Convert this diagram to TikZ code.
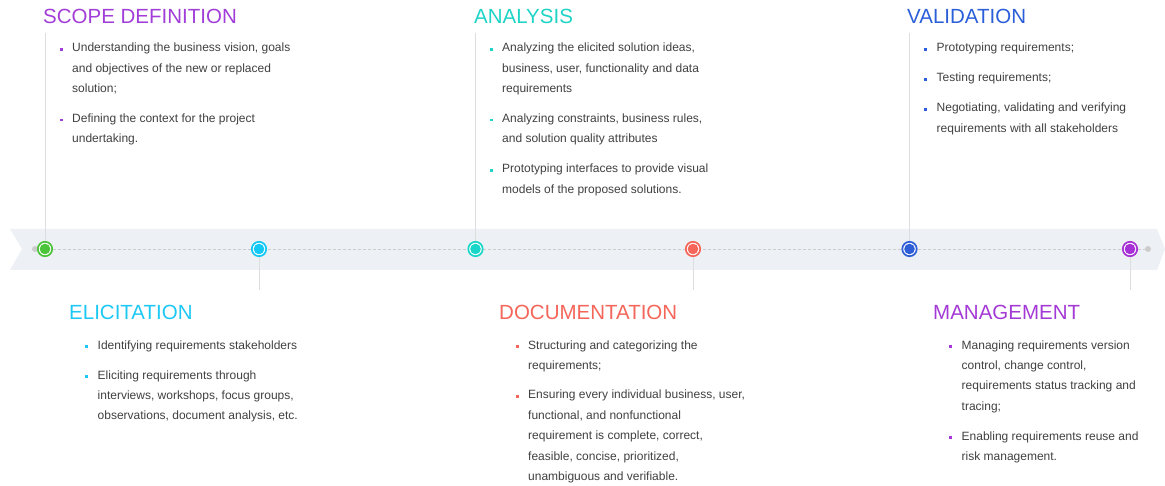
\documentclass[tikz,border=0pt]{standalone}
\usepackage{fontspec}
\setmainfont{Liberation Sans}
\definecolor{bandcol}{HTML}{EDF1F5}
\definecolor{dashcol}{HTML}{CCCCCC}
\definecolor{vline}{HTML}{DDDDDD}
\definecolor{bodycol}{HTML}{404040}
\definecolor{cscope}{HTML}{A23ED8}
\definecolor{celic}{HTML}{1EC8F5}
\definecolor{canal}{HTML}{1ED4C6}
\definecolor{cdoc}{HTML}{F4655A}
\definecolor{cval}{HTML}{2B5FD9}
\definecolor{cman}{HTML}{A43AD6}
\definecolor{dgreen}{HTML}{4CC43A}
\definecolor{dcyan}{HTML}{12C8F5}
\definecolor{dteal}{HTML}{1AD6C8}
\definecolor{dred}{HTML}{F56559}
\definecolor{dblue}{HTML}{2F5FD6}
\definecolor{dpurple}{HTML}{A72FD6}
\tikzset{
  txt/.style={anchor=base west, inner sep=0pt, text=bodycol, font=\fontsize{12}{14}\selectfont},
  ttl/.style={anchor=base west, inner sep=0pt, font=\fontsize{20.5}{24}\selectfont},
  bul/.style={rectangle, inner sep=0pt, minimum size=2.8pt, draw=none},
  dotc/.style={circle, inner sep=0pt, minimum size=14.4pt, line width=1.7pt, draw=#1, fill=white},
  dotin/.style={circle, inner sep=0pt, minimum size=10.6pt, fill=#1},
  stem/.style={draw=vline, line width=0.9pt},
  enddot/.style={circle, inner sep=0pt, minimum size=6pt, fill=dashcol}
}
\begin{document}
\begin{tikzpicture}[x=1pt,y=-1pt]
\useasboundingbox (0,0) rectangle (1165,486);
% band
\fill[bandcol] (10,229) -- (1157,229) -- (1165,249) -- (1157,270) -- (10,270) -- (22,249) -- cycle;
% end dots
\node[enddot] (e1) at (35,249) {};
\node[enddot] (e2) at (1148,249) {};
% stem endpoints
\coordinate (t1) at (45,33);
\coordinate (t3) at (475.5,33);
\coordinate (t5) at (909.5,33);
\coordinate (t2) at (259,290);
\coordinate (t4) at (693,290);
\coordinate (t6) at (1130,290);
% circle positions
\coordinate (p1) at (45,249);
\coordinate (p2) at (259,249);
\coordinate (p3) at (475.5,249);
\coordinate (p4) at (693,249);
\coordinate (p5) at (909.5,249);
\coordinate (p6) at (1130,249);
\draw[draw=dashcol, line width=0.9pt, dash pattern=on 3pt off 2pt] (e1) -- (e2);
\draw[stem] (t1) -- (p1);
\draw[stem] (t3) -- (p3);
\draw[stem] (t5) -- (p5);
\draw[stem] (t2) -- (p2);
\draw[stem] (t4) -- (p4);
\draw[stem] (t6) -- (p6);
% circles
\node[dotc=dgreen] (c1) at (p1) {};
\node[dotin=dgreen] (i1) at (p1) {};
\node[dotc=dcyan] (c2) at (p2) {};
\node[dotin=dcyan] (i2) at (p2) {};
\node[dotc=dteal] (c3) at (p3) {};
\node[dotin=dteal] (i3) at (p3) {};
\node[dotc=dred] (c4) at (p4) {};
\node[dotin=dred] (i4) at (p4) {};
\node[dotc=dblue] (c5) at (p5) {};
\node[dotin=dblue] (i5) at (p5) {};
\node[dotc=dpurple] (c6) at (p6) {};
\node[dotin=dpurple] (i6) at (p6) {};

% SCOPE DEFINITION
\node[ttl, text=cscope] (h1) at (43,24) {SCOPE DEFINITION};
\node[bul, fill=cscope] (b1a) at (61.5,49.5) {};
\node[txt] (s1) at (72,52) {Understanding the business vision, goals};
\node[txt] (s2) at (72,72.4) {and objectives of the new or replaced};
\node[txt] (s3) at (72,92.8) {solution;};
\node[bul, fill=cscope] (b1b) at (61.5,120) {};
\node[txt] (s4) at (72,122.5) {Defining the context for the project};
\node[txt] (s5) at (72,142.9) {undertaking.};

% ANALYSIS
\node[ttl, text=canal] (h3) at (474,24) {ANALYSIS};
\node[bul, fill=canal] (b3a) at (491.5,49.5) {};
\node[txt] (a1) at (502,52) {Analyzing the elicited solution ideas,};
\node[txt] (a2) at (502,72.4) {business, user, functionality and data};
\node[txt] (a3) at (502,92.8) {requirements};
\node[bul, fill=canal] (b3b) at (491.5,120) {};
\node[txt] (a4) at (502,122.5) {Analyzing constraints, business rules,};
\node[txt] (a5) at (502,142.9) {and solution quality attributes};
\node[bul, fill=canal] (b3c) at (491.5,170.5) {};
\node[txt] (a6) at (502,173) {Prototyping interfaces to provide visual};
\node[txt] (a7) at (502,193.4) {models of the proposed solutions.};

% VALIDATION
\node[ttl, text=cval] (h5) at (907,24) {VALIDATION};
\node[bul, fill=cval] (b5a) at (925.5,49.5) {};
\node[txt] (v1) at (936.5,52) {Prototyping requirements;};
\node[bul, fill=cval] (b5b) at (925.5,79.5) {};
\node[txt] (v2) at (936.5,82) {Testing requirements;};
\node[bul, fill=cval] (b5c) at (925.5,109.5) {};
\node[txt] (v3) at (936.5,112) {Negotiating, validating and verifying};
\node[txt] (v4) at (936.5,132.4) {requirements with all stakeholders};

% ELICITATION
\node[ttl, text=celic] (h2) at (69,320) {ELICITATION};
\node[bul, fill=celic] (b2a) at (86.5,346.5) {};
\node[txt] (l1) at (97.5,349) {Identifying requirements stakeholders};
\node[bul, fill=celic] (b2b) at (86.5,376.5) {};
\node[txt] (l2) at (97.5,379) {Eliciting requirements through};
\node[txt] (l3) at (97.5,399.4) {interviews, workshops, focus groups,};
\node[txt] (l4) at (97.5,419.8) {observations, document analysis, etc.};

% DOCUMENTATION
\node[ttl, text=cdoc] (h4) at (499,320) {DOCUMENTATION};
\node[bul, fill=cdoc] (b4a) at (517.5,346.5) {};
\node[txt] (d1) at (528,349) {Structuring and categorizing the};
\node[txt] (d2) at (528,369.4) {requirements;};
\node[bul, fill=cdoc] (b4b) at (517.5,396.5) {};
\node[txt] (d3) at (528,399) {Ensuring every individual business, user,};
\node[txt] (d4) at (528,419.4) {functional, and nonfunctional};
\node[txt] (d5) at (528,439.8) {requirement is complete, correct,};
\node[txt] (d6) at (528,460.2) {feasible, concise, prioritized,};
\node[txt] (d7) at (528,480.6) {unambiguous and verifiable.};

% MANAGEMENT
\node[ttl, text=cman] (h6) at (933,320) {MANAGEMENT};
\node[bul, fill=cman] (b6a) at (950.5,346.5) {};
\node[txt] (m1) at (961.5,349) {Managing requirements version};
\node[txt] (m2) at (961.5,369.4) {control, change control,};
\node[txt] (m3) at (961.5,389.8) {requirements status tracking and};
\node[txt] (m4) at (961.5,410.2) {tracing;};
\node[bul, fill=cman] (b6b) at (950.5,437.5) {};
\node[txt] (m5) at (961.5,440) {Enabling requirements reuse and};
\node[txt] (m6) at (961.5,460.4) {risk management.};
\end{tikzpicture}
\end{document}
